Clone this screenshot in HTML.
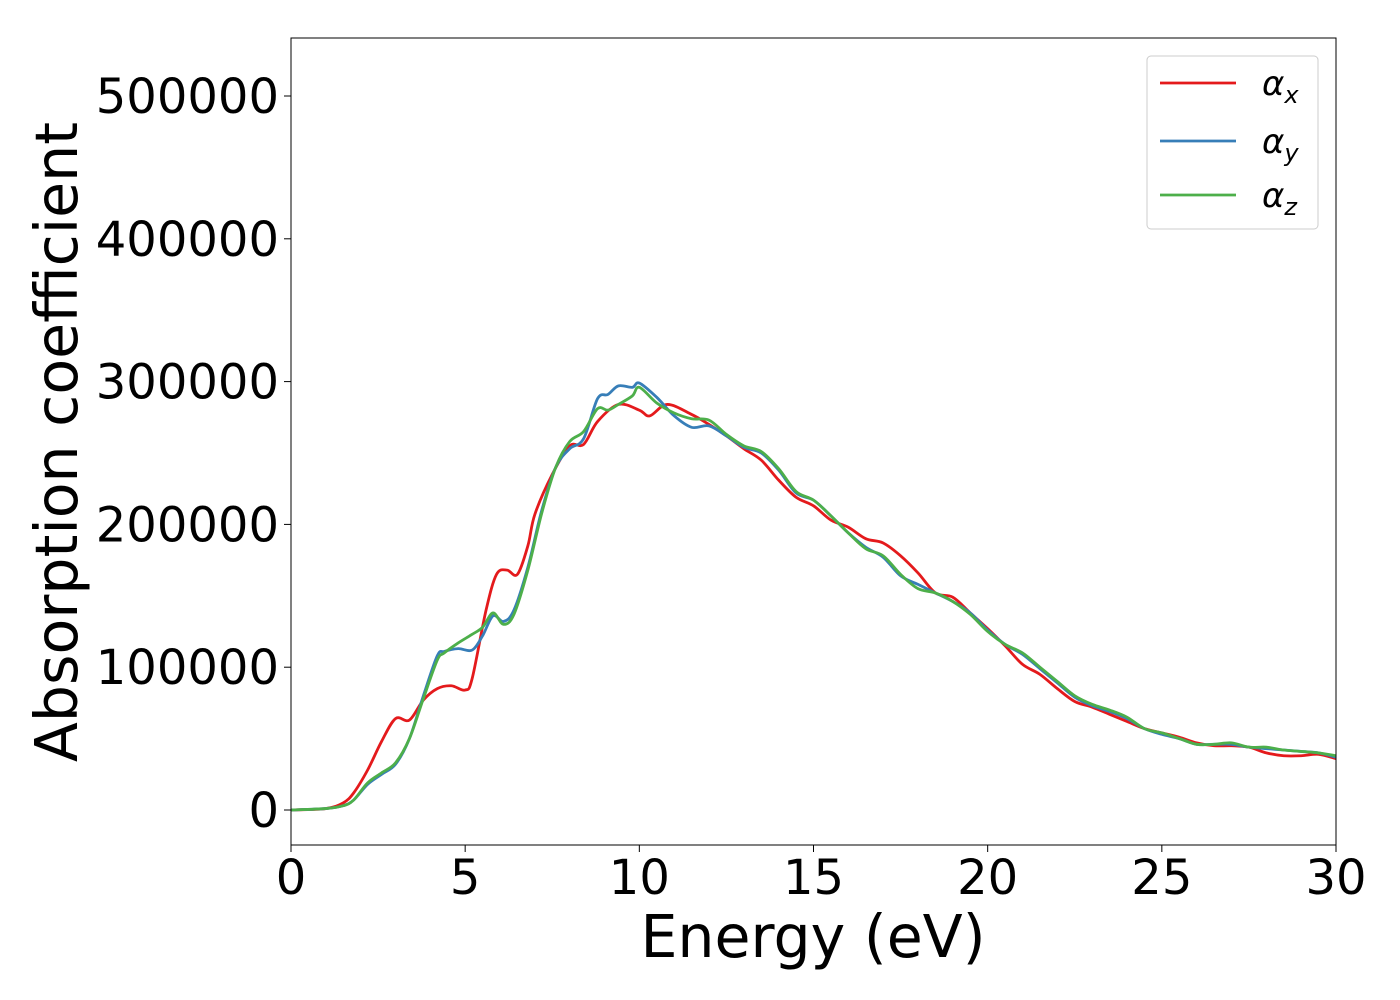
<!DOCTYPE html>
<html><head><meta charset="utf-8"><style>
body{margin:0;background:#fff;}
svg{display:block;font-family:"DejaVu Sans","Liberation Sans",sans-serif;}
</style></head><body>
<svg id="chart" width="1400" height="1000"></svg>
<script>
const energyX=[0,1,1.5,1.8,2.2,2.6,3,3.4,3.8,4.2,4.6,5,5.2,5.6,5.9,6.2,6.5,6.8,7.0,7.5,8,8.4,8.8,9.4,10,10.3,10.8,11.5,12,12.5,13,13.5,14,14.5,15,15.5,16,16.5,17,17.5,18,18.5,19,19.5,20,20.5,21,21.5,22,22.5,23,23.5,24,24.5,25,25.5,26,26.5,27,27.5,28,28.5,29,29.5,30];
const alphaX=[0,1,5,12,28,48,64,63,77,85,87,84,92,140,165,168,165,185,207,235,255,256,272,284,280,276,284,277,270,262,253,245,231,219,213,203,198,190,187,178,166,152,149,138,127,115,102,95,85,76,72,67,62,57,54,51,47,45,45,44,40,38,38,39,36];
const energyYZ=[0,1,1.5,1.8,2.2,2.6,3,3.4,3.8,4.2,4.4,4.8,5.2,5.5,5.8,6.1,6.4,6.8,7.2,7.6,8,8.4,8.8,9.1,9.4,9.8,10,10.5,11,11.5,12,12.5,13,13.5,14,14.5,15,15.5,16,16.5,17,17.5,18,18.5,19,19.5,20,20.5,21,21.5,22,22.5,23,23.5,24,24.5,25,25.5,26,26.5,27,27.5,28,28.5,29,29.5,30];
const alphaY=[0,1,3,7,18,25,32,50,80,108,111,113,112,122,136,132,140,170,210,240,253,260,288,291,297,296,299,289,276,268,269,262,254,250,238,222,217,206,194,184,177,164,158,152,146,138,126,116,109,99,89,79,73,69,64,57,53,50,46,46,46,44,43,42,41,40,37];
const alphaZ=[0,1,3,7,19,26,33,50,78,105,110,117,123,128,138,130,137,168,208,240,258,265,281,280,284,290,296,285,278,274,273,263,255,251,239,223,217,206,194,183,178,165,155,152,146,137,125,116,110,100,90,80,74,70,65,57,54,50,46,46,47,44,44,42,41,40,38];
const xTicks=[0,5,10,15,20,25,30];
const yTicks=[0,100000,200000,300000,400000,500000];
const NS="http://www.w3.org/2000/svg";
const svg=document.getElementById('chart');
const L=291,R=1336,T=38,B=845;
const sx=v=>L+v*(R-L)/30;
const sy=v=>810-v*714/500000;
function mk(t,a,p){const e=document.createElementNS(NS,t);for(const k in a)e.setAttribute(k,a[k]);(p||svg).appendChild(e);return e;}
const clip=mk('clipPath',{id:'c'});mk('rect',{x:L,y:T,width:R-L,height:B-T},clip);
function path(xs,ys){
  const p=xs.map((x,i)=>[sx(x),sy(ys[i]*1000)]);
  let d='M'+p[0][0]+','+p[0][1];
  for(let i=0;i<p.length-1;i++){
    const p0=p[Math.max(0,i-1)],p1=p[i],p2=p[i+1],p3=p[Math.min(p.length-1,i+2)];
    const c1=[p1[0]+(p2[0]-p0[0])/6,p1[1]+(p2[1]-p0[1])/6];
    const c2=[p2[0]-(p3[0]-p1[0])/6,p2[1]-(p3[1]-p1[1])/6];
    d+=`C${c1[0]},${c1[1]} ${c2[0]},${c2[1]} ${p2[0]},${p2[1]}`;
  }
  return d;
}
const series=[['alpha-x-line',energyX,alphaX,'#e41a1c'],['alpha-y-line',energyYZ,alphaY,'#377eb8'],['alpha-z-line',energyYZ,alphaZ,'#4daf4a']];
series.forEach(s=>{
  const e=mk('path',{d:path(s[1],s[2]),fill:'none',stroke:s[3],'stroke-width':2.8,'clip-path':'url(#c)'});
  
  
});
const frame=mk('rect',{x:L,y:T,width:R-L,height:B-T,fill:'none',stroke:'#000','stroke-width':1});


xTicks.forEach(v=>{
  mk('line',{x1:sx(v),x2:sx(v),y1:B,y2:B+7,stroke:'#000','stroke-width':1});
  const t=mk('text',{x:sx(v),y:894,'font-size':48,'text-anchor':'middle'});t.textContent=v;
  
  
});
yTicks.forEach(v=>{
  mk('line',{x1:L-7,x2:L,y1:sy(v),y2:sy(v),stroke:'#000','stroke-width':1});
  const t=mk('text',{x:279,y:sy(v)+17,'font-size':48,'text-anchor':'end'});t.textContent=v;
  
  
});
const xt=mk('text',{x:813,y:957,'font-size':58.5,'text-anchor':'middle'});xt.textContent='Energy (eV)';


const yt=mk('text',{x:0,y:0,'font-size':58.5,'text-anchor':'middle',transform:'translate(77,442) rotate(-90)'});yt.textContent='Absorption coefficient';


const lg=mk('g',{});


mk('rect',{x:1147,y:56,width:171,height:173,rx:4,fill:'#fff',stroke:'#ccc','stroke-width':1},lg);
[['x',83,'#e41a1c'],['y',141,'#377eb8'],['z',195,'#4daf4a']].forEach(e=>{
  const g=mk('g',{},lg);
  
  
  mk('line',{x1:1160,x2:1236,y1:e[1],y2:e[1],stroke:e[2],'stroke-width':2.8},g);
  const t=mk('text',{x:1262,y:e[1]+12,'font-size':34,'font-style':'italic'},g);
  t.textContent='α';
  const s=mk('tspan',{'font-size':24,dy:8},t);s.textContent=e[0];
});
</script>
</body></html>
